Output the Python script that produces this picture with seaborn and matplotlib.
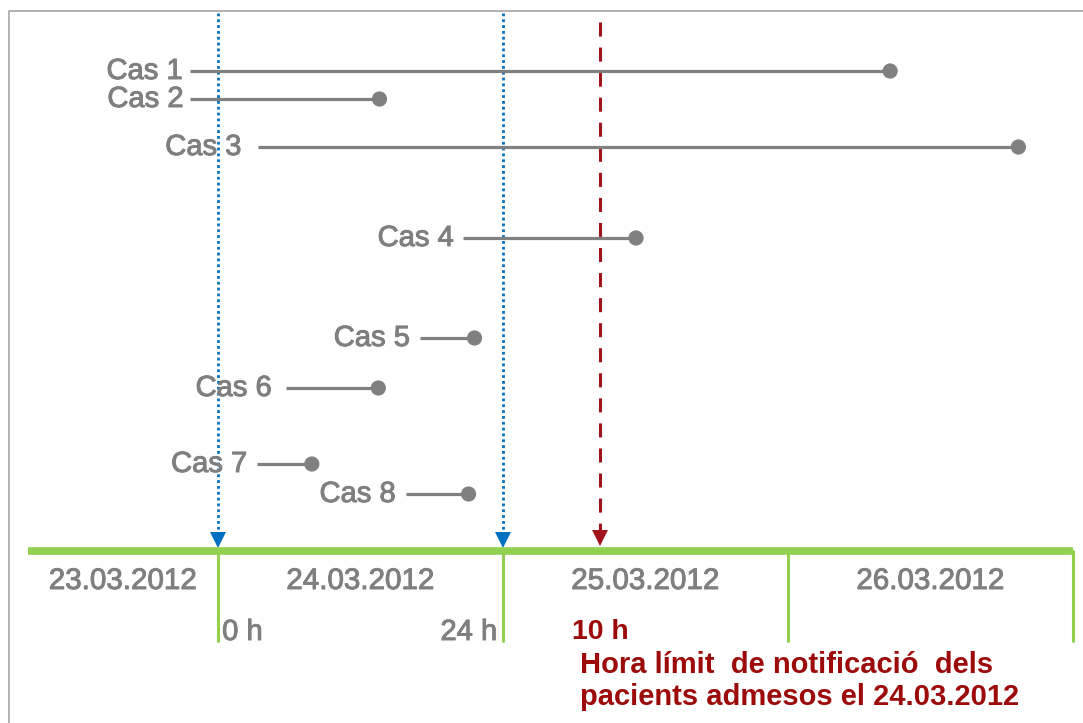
import matplotlib
matplotlib.use("Agg")
import matplotlib.pyplot as plt
import matplotlib.patheffects as pe
import seaborn as sns
import pandas as pd

# ---- data (hours relative to 24.03.2012 00:00) ----
cases = ["Cas 1", "Cas 2", "Cas 3", "Cas 4", "Cas 5", "Cas 6", "Cas 7", "Cas 8"]
start_h = [-2.4, -2.4, 3.4, 20.6, 17.0, 5.7, 3.3, 15.8]
end_h = [56.6, 13.6, 67.4, 35.2, 21.6, 13.5, 7.9, 21.1]
row = [71, 99, 147, 238, 338, 388, 464, 494]      # vertical slot of each case
label_gap = [7, 6, 17, 9, 10, 14, 10, 10]         # px between label and segment

day_labels = ["23.03.2012", "24.03.2012", "25.03.2012", "26.03.2012"]
day_edges = [-16.0, 0, 24, 48, 72]
hour_marks = [0, 24]
hour_labels = ["0 h", "24 h"]
deadline_h = 32.2
deadline_label = "10 h"
note_lines = ["Hora límit  de notificació  dels", "pacients admesos el 24.03.2012"]

df = pd.DataFrame({"case": cases, "start": start_h, "end": end_h, "row": row})

sns.set_theme(style="white")
plt.rcParams["font.family"] = ["Liberation Sans", "DejaVu Sans"]

GRAY = "#808080"
TXT = "#7F7F7F"
GREEN = "#92D050"
BLUE = "#0070C0"
RED = "#A0141E"
DRED = "#9C0A0A"

W, H = 1083, 723
fig = plt.figure(figsize=(W / 100, H / 100), dpi=100)
ax = fig.add_axes([0, 0, 1, 1])
PX = 285 / 24.0           # pixels per hour
x0 = 218                  # pixel of 0 h
ax.set_xlim(-x0 / PX, (W - x0) / PX)
ax.set_ylim(H, 0)
ax.axis("off")

def px(p):
    return (p - x0) / PX

thick = [pe.withStroke(linewidth=0.7, foreground=TXT)]

# frame (left + top)
ax.plot([px(8.5), px(8.5), px(W + 5)], [H + 5, 11, 11], color="#A6A6A6", lw=1.2, zorder=1)

# case segments + dots
ax.hlines(df["row"], df["start"], df["end"], color=GRAY, lw=2.3, zorder=3)
sns.scatterplot(data=df, x="end", y="row", ax=ax, color=GRAY, s=120,
                edgecolor="none", zorder=4, legend=False)
for (_, r), g in zip(df.iterrows(), label_gap):
    ax.text(r["start"] - g / PX, r["row"], r["case"], ha="right", va="center",
            fontsize=21, color=TXT, zorder=5, path_effects=thick)

# blue dotted markers (0 h, 24 h)
for h in hour_marks:
    ax.plot([h, h], [13, 537], color=BLUE, lw=2.0, dashes=(1.0, 1.1), zorder=2)
    ax.plot([h], [540], marker="v", color=BLUE, ms=11, mew=0, zorder=2)

# red dashed deadline
ax.plot([deadline_h, deadline_h], [22, 535], color=RED, lw=2.2, dashes=(4.6, 3.6), zorder=2)
ax.plot([deadline_h], [538], marker="v", color=RED, ms=11, mew=0, zorder=2)

# timeline
ax.plot([day_edges[0], day_edges[-1]], [551, 551], color=GREEN, lw=5.5,
        solid_capstyle="butt", zorder=3)
for e in day_edges[1:]:
    ax.plot([e, e], [551, 641], color=GREEN, lw=2.2, zorder=3)

for i, lab in enumerate(day_labels):
    c = (day_edges[i] + day_edges[i + 1]) / 2
    ax.text(c, 581, lab, ha="center", va="center", fontsize=21.3, color=TXT,
            path_effects=thick)

ax.text(hour_marks[0] + 0.35, 632, hour_labels[0], ha="left", va="center",
        fontsize=21, color=TXT, path_effects=thick)
ax.text(hour_marks[1] - 0.5, 632, hour_labels[1], ha="right", va="center",
        fontsize=21, color=TXT, path_effects=thick)

ax.text(px(572), 632, deadline_label, ha="left", va="center", fontsize=20.5,
        color=DRED, fontweight="bold")
for i, line in enumerate(note_lines):
    ax.text(px(580), 665 + 32 * i, line, ha="left", va="center", fontsize=21,
            color=DRED, fontweight="bold")

fig.savefig("out.png", dpi=100, facecolor="white")
